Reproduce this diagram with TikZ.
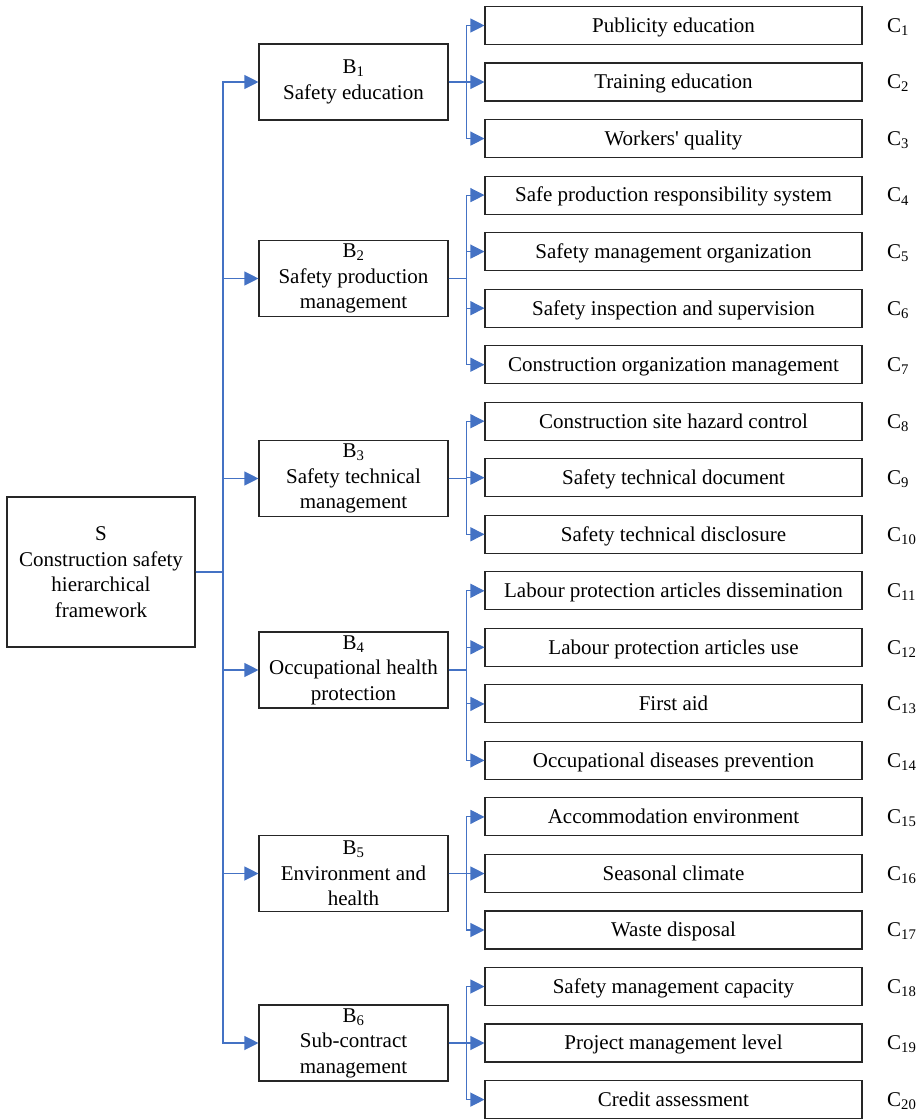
\documentclass[tikz,border=0pt]{standalone}
\usepackage{fontspec}
\setmainfont{Liberation Serif}
\usetikzlibrary{arrows.meta}
\definecolor{linkblue}{RGB}{68,114,196}

\begin{document}
\begin{tikzpicture}[x=1pt,y=1pt,yscale=-1,xscale=1,
  box/.style={draw=black!85,line width=1.1pt,align=center,inner sep=0pt,font=\fontsize{21}{25.5}\selectfont},
  sbox/.style={box,minimum width=188,minimum height=150},
  bbox/.style={box,minimum width=189,minimum height=76},
  cbox/.style={box,minimum width=377,minimum height=38,text height=18pt,text depth=4.4pt},
  clab/.style={anchor=west,inner sep=0pt,text height=18pt,text depth=4.4pt,font=\fontsize{21}{25}\selectfont},
  link/.style={draw=linkblue,line width=1.1pt,-{Triangle[length=14pt,width=14pt]}}]
%set diagram frame to 921 x 1119
\useasboundingbox (0,0) rectangle (921,1119);

% Goal node
\node[sbox] (S) at (101,572) {S\\Construction safety\\hierarchical\\framework};

% Criteria nodes
\node[bbox] (B1) at (353.5,82) {B\textsubscript{1}\\Safety education};
\node[bbox] (B2) at (353.5,278.5) {B\textsubscript{2}\\Safety production\\management};
\node[bbox] (B3) at (353.5,478.5) {B\textsubscript{3}\\Safety technical\\management};
\node[bbox] (B4) at (353.5,670) {B\textsubscript{4}\\Occupational health\\protection};
\node[bbox] (B5) at (353.5,873.5) {B\textsubscript{5}\\Environment and\\health};
\node[bbox] (B6) at (353.5,1043) {B\textsubscript{6}\\Sub-contract\\management};

% Index nodes
\node[cbox] (C1) at (673.5,25.5) {Publicity education};
\node[cbox] (C2) at (673.5,82) {Training education};
\node[cbox] (C3) at (673.5,138.6) {Workers\textquotesingle\ quality};
\node[cbox] (C4) at (673.5,195.1) {Safe production responsibility system};
\node[cbox] (C5) at (673.5,251.6) {Safety management organization};
\node[cbox] (C6) at (673.5,308.2) {Safety inspection and supervision};
\node[cbox] (C7) at (673.5,364.7) {Construction organization management};
\node[cbox] (C8) at (673.5,421.2) {Construction site hazard control};
\node[cbox] (C9) at (673.5,477.7) {Safety technical document};
\node[cbox] (C10) at (673.5,534.3) {Safety technical disclosure};
\node[cbox] (C11) at (673.5,590.8) {Labour protection articles dissemination};
\node[cbox] (C12) at (673.5,647.3) {Labour protection articles use};
\node[cbox] (C13) at (673.5,703.9) {First aid};
\node[cbox] (C14) at (673.5,760.4) {Occupational diseases prevention};
\node[cbox] (C15) at (673.5,816.9) {Accommodation environment};
\node[cbox] (C16) at (673.5,873.5) {Seasonal climate};
\node[cbox] (C17) at (673.5,930) {Waste disposal};
\node[cbox] (C18) at (673.5,986.5) {Safety management capacity};
\node[cbox] (C19) at (673.5,1043) {Project management level};
\node[cbox] (C20) at (673.5,1099.6) {Credit assessment};

% Index labels
\node[clab] (L1) at (887,25.5) {C\textsubscript{1}};
\node[clab] (L2) at (887,82) {C\textsubscript{2}};
\node[clab] (L3) at (887,138.6) {C\textsubscript{3}};
\node[clab] (L4) at (887,195.1) {C\textsubscript{4}};
\node[clab] (L5) at (887,251.6) {C\textsubscript{5}};
\node[clab] (L6) at (887,308.2) {C\textsubscript{6}};
\node[clab] (L7) at (887,364.7) {C\textsubscript{7}};
\node[clab] (L8) at (887,421.2) {C\textsubscript{8}};
\node[clab] (L9) at (887,477.7) {C\textsubscript{9}};
\node[clab] (L10) at (887,534.3) {C\textsubscript{10}};
\node[clab] (L11) at (887,590.8) {C\textsubscript{11}};
\node[clab] (L12) at (887,647.3) {C\textsubscript{12}};
\node[clab] (L13) at (887,703.9) {C\textsubscript{13}};
\node[clab] (L14) at (887,760.4) {C\textsubscript{14}};
\node[clab] (L15) at (887,816.9) {C\textsubscript{15}};
\node[clab] (L16) at (887,873.5) {C\textsubscript{16}};
\node[clab] (L17) at (887,930) {C\textsubscript{17}};
\node[clab] (L18) at (887,986.5) {C\textsubscript{18}};
\node[clab] (L19) at (887,1043) {C\textsubscript{19}};
\node[clab] (L20) at (887,1099.6) {C\textsubscript{20}};

% Branch points
\coordinate (trunk) at (223,572);
\coordinate (b1) at ([xshift=18pt]B1.east);
\coordinate (b2) at ([xshift=18pt]B2.east);
\coordinate (b3) at ([xshift=18pt]B3.east);
\coordinate (b4) at ([xshift=18pt]B4.east);
\coordinate (b5) at ([xshift=18pt]B5.east);
\coordinate (b6) at ([xshift=18pt]B6.east);

% Goal to criteria
\draw[link] (S.east) -- (trunk) |- (B1.west);
\draw[link] (S.east) -- (trunk) |- (B2.west);
\draw[link] (S.east) -- (trunk) |- (B3.west);
\draw[link] (S.east) -- (trunk) |- (B4.west);
\draw[link] (S.east) -- (trunk) |- (B5.west);
\draw[link] (S.east) -- (trunk) |- (B6.west);

% Criteria to indices
\draw[link] (B1.east) -- (b1) |- (C1.west);
\draw[link] (B1.east) -- (b1) |- (C2.west);
\draw[link] (B1.east) -- (b1) |- (C3.west);
\draw[link] (B2.east) -- (b2) |- (C4.west);
\draw[link] (B2.east) -- (b2) |- (C5.west);
\draw[link] (B2.east) -- (b2) |- (C6.west);
\draw[link] (B2.east) -- (b2) |- (C7.west);
\draw[link] (B3.east) -- (b3) |- (C8.west);
\draw[link] (B3.east) -- (b3) |- (C9.west);
\draw[link] (B3.east) -- (b3) |- (C10.west);
\draw[link] (B4.east) -- (b4) |- (C11.west);
\draw[link] (B4.east) -- (b4) |- (C12.west);
\draw[link] (B4.east) -- (b4) |- (C13.west);
\draw[link] (B4.east) -- (b4) |- (C14.west);
\draw[link] (B5.east) -- (b5) |- (C15.west);
\draw[link] (B5.east) -- (b5) |- (C16.west);
\draw[link] (B5.east) -- (b5) |- (C17.west);
\draw[link] (B6.east) -- (b6) |- (C18.west);
\draw[link] (B6.east) -- (b6) |- (C19.west);
\draw[link] (B6.east) -- (b6) |- (C20.west);

\end{tikzpicture}
\end{document}
